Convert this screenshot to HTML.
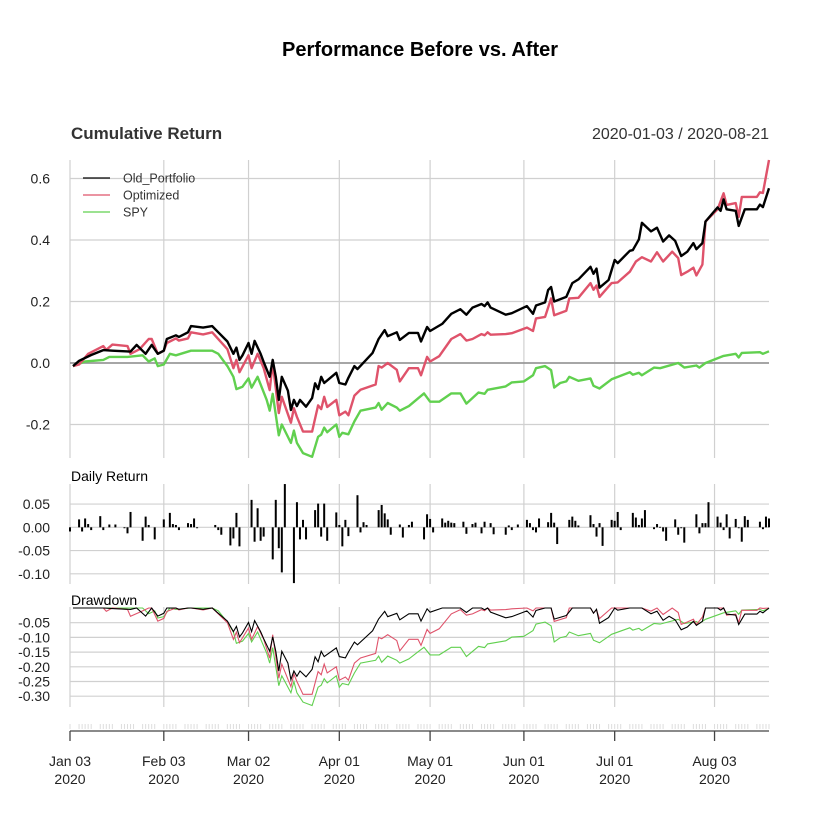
<!DOCTYPE html>
<html><head><meta charset="utf-8"><style>
html,body{margin:0;padding:0;background:#fff;}
svg{display:block;font-family:"Liberation Sans",Arial,sans-serif;}
</style></head><body>
<svg id="chart" width="840" height="840" viewBox="0 0 840 840">
<text x="420" y="56" text-anchor="middle" font-size="20" font-weight="bold" fill="#000">Performance Before vs. After</text>
<text x="71" y="139" font-size="17" font-weight="bold" fill="#333">Cumulative Return</text>
<text x="769" y="139" text-anchor="end" font-size="16" fill="#333">2020-01-03 / 2020-08-21</text>
<g id="grid"></g>
<g id="series"></g>
<g id="legend">
<line x1="83" y1="178" x2="110" y2="178" stroke="#000" stroke-width="1.3"/>
<text x="123" y="182.5" font-size="12.5" fill="#333">Old_Portfolio</text>
<line x1="83" y1="195" x2="110" y2="195" stroke="#DF536B" stroke-width="1.3"/>
<text x="123" y="199.5" font-size="12.5" fill="#333">Optimized</text>
<line x1="83" y1="212" x2="110" y2="212" stroke="#61D04F" stroke-width="1.3"/>
<text x="123" y="216.5" font-size="12.5" fill="#333">SPY</text>
</g>
<text x="71" y="481" font-size="14" fill="#000">Daily Return</text>
<text x="71" y="605" font-size="14" fill="#000">Drawdown</text>
</svg>
<script>
// ---- data (t = calendar day offset from 2020-01-03) ----
const monthTicks = [0,31,59,89,119,150,180,213];
const monthLabels = ["Jan 03","Feb 03","Mar 02","Apr 01","May 01","Jun 01","Jul 01","Aug 03"];
const cumTicks = [0.6,0.4,0.2,0.0,-0.2];
const cumTickLabels = ["0.6","0.4","0.2","0.0","-0.2"];
const retTicks = [0.05,0,-0.05,-0.10];
const retTickLabels = ["0.05","0.00","-0.05","-0.10"];
const ddTicks = [-0.05,-0.10,-0.15,-0.20,-0.25,-0.30];
const ddTickLabels = ["-0.05","-0.10","-0.15","-0.20","-0.25","-0.30"];

const oldT = [1,3,7,11,14,20,22,25,27,29,31,32,35,36,39,40,44,47,49,52,54,55,56,57,59,60,61,63,64,66,67,68,69,70,72,73,74,75,76,78,80,81,82,83,84,88,89,91,92,94,95,100,102,104,105,108,109,112,115,116,118,119,123,126,129,131,133,136,137,138,139,144,146,151,153,154,157,158,159,160,164,166,168,172,173,174,175,178,180,181,185,186,188,189,192,194,196,198,200,202,204,206,207,209,210,214,215,216,217,220,221,223,227,228,229,231];
const oldV = [-0.01,0.007,0.026,0.042,0.04,0.037,0.059,0.03,0.059,0.03,0.04,0.078,0.09,0.085,0.1,0.12,0.115,0.12,0.1,0.07,0.03,0.05,0.01,0.025,0.065,0.03,0.072,0.03,0.003,-0.045,0.01,-0.045,-0.12,-0.045,-0.09,-0.153,-0.12,-0.14,-0.12,-0.142,-0.114,-0.066,-0.085,-0.045,-0.065,-0.032,-0.065,-0.07,-0.048,-0.01,-0.02,0.033,0.078,0.107,0.087,0.1,0.075,0.098,0.098,0.07,0.117,0.104,0.127,0.16,0.175,0.157,0.18,0.192,0.185,0.197,0.18,0.157,0.162,0.185,0.16,0.187,0.197,0.237,0.247,0.2,0.215,0.26,0.272,0.313,0.29,0.307,0.245,0.27,0.335,0.325,0.365,0.367,0.402,0.456,0.428,0.44,0.395,0.415,0.397,0.348,0.362,0.39,0.37,0.39,0.46,0.506,0.495,0.532,0.5,0.495,0.446,0.5,0.5,0.515,0.507,0.568];

const optT = [1,3,6,11,12,14,19,20,23,26,27,29,31,32,35,36,39,40,44,47,52,54,55,56,59,60,62,64,66,67,69,70,73,74,75,77,80,82,83,84,85,88,89,91,92,94,96,101,102,103,105,108,109,112,115,116,118,119,122,126,129,131,133,136,137,138,139,144,146,151,153,154,157,159,160,164,165,168,172,173,174,175,179,181,185,187,189,192,194,196,199,201,202,204,206,207,209,210,214,216,217,220,221,222,227,228,229,231];
const optV = [-0.01,-0.005,0.03,0.055,0.043,0.06,0.055,0.03,0.045,0.078,0.078,0.03,0.04,0.065,0.08,0.073,0.08,0.1,0.093,0.1,0.045,-0.017,0.01,-0.03,0.025,-0.017,0.03,-0.017,-0.088,0,-0.163,-0.11,-0.194,-0.147,-0.175,-0.223,-0.223,-0.138,-0.15,-0.11,-0.143,-0.12,-0.17,-0.158,-0.17,-0.106,-0.087,-0.07,-0.01,-0.015,0,-0.022,-0.06,-0.017,-0.017,-0.04,0.02,0.005,0.022,0.078,0.094,0.073,0.078,0.094,0.09,0.1,0.092,0.094,0.097,0.115,0.104,0.145,0.15,0.21,0.155,0.17,0.21,0.212,0.26,0.238,0.252,0.215,0.26,0.262,0.297,0.33,0.344,0.33,0.36,0.33,0.362,0.341,0.286,0.297,0.31,0.285,0.32,0.46,0.5,0.552,0.514,0.52,0.475,0.54,0.54,0.555,0.553,0.66];

const spyT = [1,5,11,13,19,24,26,28,29,31,33,35,40,47,49,52,54,55,57,59,60,62,65,66,67,69,70,73,74,75,77,80,82,83,84,85,88,89,90,92,94,96,101,102,103,105,108,109,112,115,117,119,122,126,129,131,135,137,138,144,146,150,153,154,157,159,160,162,164,165,168,172,173,175,179,185,186,188,189,193,195,201,203,207,208,210,216,220,221,222,228,229,231];
const spyV = [-0.01,0.005,0.01,0.02,0.02,0.025,0.005,0.015,-0.01,-0.005,0.03,0.025,0.04,0.04,0.03,-0.01,-0.045,-0.085,-0.077,-0.05,-0.08,-0.045,-0.12,-0.155,-0.1,-0.235,-0.2,-0.26,-0.22,-0.26,-0.293,-0.305,-0.24,-0.233,-0.21,-0.225,-0.2,-0.24,-0.227,-0.232,-0.19,-0.155,-0.145,-0.13,-0.152,-0.13,-0.145,-0.155,-0.14,-0.115,-0.099,-0.126,-0.126,-0.099,-0.099,-0.132,-0.096,-0.1,-0.087,-0.076,-0.063,-0.06,-0.04,-0.017,-0.01,-0.023,-0.08,-0.065,-0.06,-0.045,-0.058,-0.05,-0.074,-0.083,-0.053,-0.03,-0.038,-0.032,-0.04,-0.015,-0.017,0.0,-0.015,-0.008,-0.015,0.0,0.023,0.03,0.018,0.033,0.035,0.03,0.038];

const retT = [0,3,4,5,6,7,10,11,13,15,18,19,20,24,25,26,28,31,33,34,35,36,39,40,41,42,48,49,50,53,54,55,56,60,61,62,63,64,67,68,69,70,71,74,75,76,77,78,81,82,83,84,85,88,89,90,91,92,95,96,97,98,102,103,104,105,106,109,110,112,113,117,118,119,120,123,124,125,126,127,130,131,133,134,136,137,139,140,144,145,146,148,151,152,153,154,155,158,159,160,161,165,166,167,168,172,173,174,175,176,179,180,181,182,186,187,188,189,190,193,194,195,196,197,200,201,202,203,207,208,209,210,211,214,215,216,217,218,220,221,222,223,224,228,229,230,231];
const retV = [-0.009,0.017,-0.009,0.019,0.007,-0.006,0.024,-0.006,0.006,0.006,-0.002,-0.013,0.033,-0.029,0.023,0.005,-0.026,0.017,0.031,0.007,0.005,-0.006,0.009,0.007,0.019,-0.002,0.005,-0.006,-0.016,-0.039,-0.024,0.031,-0.041,0.059,-0.031,0.041,-0.029,-0.02,-0.069,0.059,-0.045,-0.097,0.093,-0.12,0.054,-0.026,0.016,-0.026,0.037,0.051,-0.02,0.051,-0.029,0.032,0.005,-0.041,0.016,-0.019,0.069,-0.011,0.011,0.005,0.037,0.048,0.03,0.017,-0.016,0.006,-0.022,0.005,0.012,-0.026,0.028,0.018,-0.011,0.019,0.01,0.014,0.01,0.009,0.012,-0.014,0.007,0.01,-0.013,0.012,0.009,-0.015,-0.016,0.004,-0.006,0.006,0.016,0.009,-0.006,-0.011,0.019,0.011,0.031,0.01,-0.036,0.016,0.023,0.014,0.004,0.026,0.007,-0.02,0.009,-0.04,0.016,0.014,0.033,-0.006,0.031,0.021,0.005,0.019,0.037,-0.004,0.007,0.001,-0.009,-0.029,0.017,-0.016,-0.002,-0.033,0.028,-0.013,0.009,0.009,0.054,0.023,0.01,-0.006,0.028,-0.024,0.018,-0.002,-0.031,0.024,0.016,0.012,-0.004,0.023,0.019];

// ---- axes ----
const X0=70, X1=769, TMAX=231;
const x = t => X0 + t*(X1-X0)/TMAX;
const yCum = v => 363 - v*307.5;
const yRet = v => 527.3 - v*465;
const yDd = v => 608 - v*294;
const ns="http://www.w3.org/2000/svg";
const svg=document.getElementById('chart');
const grid=document.getElementById('grid');
const ser=document.getElementById('series');
function mk(tag, attrs, parent){const e=document.createElementNS(ns,tag);for(const k in attrs)e.setAttribute(k,attrs[k]);(parent||svg).appendChild(e);return e;}

const panels=[[160,458],[484,584],[607,707]];
monthTicks.forEach((t,i)=>{
  panels.forEach(p=>{
    const l=mk('line',{x1:x(t),x2:x(t),y1:p[0],y2:p[1],stroke:'#d0d0d0','stroke-width':1.2},grid);
    
    
  });
});
function hgrid(ticks, labels, yf, name, zeroDark){
  ticks.forEach((v,i)=>{
    const y=yf(v);
    const l=mk('line',{x1:X0,x2:X1,y1:y,y2:y,stroke:(zeroDark&&v===0)?'#999':'#d0d0d0','stroke-width':(zeroDark&&v===0)?1.8:1.2},grid);
    
    
    const tx=mk('text',{x:50,y:y+5,'text-anchor':'end','font-size':14,fill:'#222'},grid);
    tx.textContent=labels[i];
    
    
  });
}
hgrid(cumTicks,cumTickLabels,yCum,'cumulative-y',true);
hgrid(retTicks,retTickLabels,yRet,'daily-return-y',false);
hgrid(ddTicks,ddTickLabels,yDd,'drawdown-y',false);

function pathOf(ts, vs, yf){return ts.map((t,i)=>(i?'L':'M')+x(t).toFixed(1)+' '+yf(vs[i]).toFixed(1)).join(' ');}
function drawdown(vs){let m=-1e9;return vs.map(v=>{m=Math.max(m,1+v);return (1+v)/m-1;});}
const series=[['old-portfolio',oldT,oldV,'#000'],['optimized',optT,optV,'#DF536B'],['spy',spyT,spyV,'#61D04F']];
[2,1,0].forEach(i=>{
  const s=series[i];
  const p=mk('path',{d:pathOf(s[1],s[2],yCum),fill:'none',stroke:s[3],'stroke-width':2.4,'stroke-linejoin':'round'},ser);
  
  
});
[2,1,0].forEach(i=>{
  const s=series[i];
  const p=mk('path',{d:pathOf(s[1],drawdown(s[2]),yDd),fill:'none',stroke:s[3],'stroke-width':1.1},ser);
  
  
});
retT.forEach((t,i)=>{
  const v=retV[i];
  const y0=yRet(0), y1=yRet(v);
  const r=mk('rect',{x:x(t)-1,y:Math.min(y0,y1),width:2,height:Math.max(0.8,Math.abs(y1-y0)),fill:'#000'},ser);
  
  
});
for(let t=0;t<=TMAX;t++){
  if(t%7===1||t%7===2) continue;
  const m=mk('line',{x1:x(t),x2:x(t),y1:724,y2:729,stroke:'#ddd','stroke-width':1},grid);
  
  
}
const ax=mk('line',{x1:x(0),x2:X1,y1:731,y2:731,stroke:'#444','stroke-width':1.3});


monthTicks.forEach((t,i)=>{
  const tk=mk('line',{x1:x(t),x2:x(t),y1:731,y2:741,stroke:'#444','stroke-width':1.3});
  
  
  const a=mk('text',{x:x(t),y:766,'text-anchor':'middle','font-size':14,fill:'#222'});
  a.textContent=monthLabels[i];
  
  
  const b=mk('text',{x:x(t),y:784,'text-anchor':'middle','font-size':14,fill:'#222'});
  b.textContent='2020';
  
  
});
</script>
</body></html>
